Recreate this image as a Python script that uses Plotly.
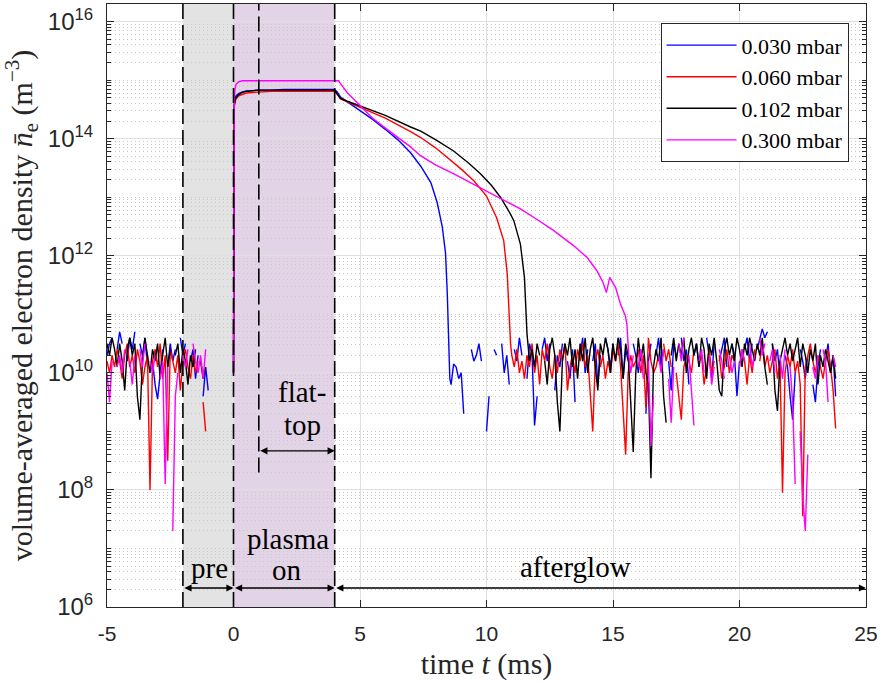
import numpy as np
import plotly.graph_objects as go

N = None

# ---------------- data (log10 of electron density in m^-3) ----------------
labels = ["0.030 mbar", "0.060 mbar", "0.102 mbar", "0.300 mbar"]
colors = ["#0000ff", "#ff0000", "#000000", "#ff00ff"]

# pre-phase noise, t = -5.0 ... -1.0 ms, step 0.1 ms
pre_t0 = -5.0
blue_pre = [10.3, 10.5, 10.6, N, 10.4, 10.7, 10.5, N, 10.2, 10.6,
            10.4, 10.7, N, 10.5, 10.3, 10.6, 10.1, N, 10.2, 9.8,
            9.55, 10.0, 10.4, N, 10.1, 10.5, 10.2, 10.4, N, 10.6,
            10.3, 10.5, N, 10.2, 10.4, 9.9, 10.3, N, 9.6, 10.1, 9.7]
red_pre = [10.2, 10.0, 10.3, 10.1, 10.4, 10.2, 9.9, 10.3, 10.5, 10.1,
           10.3, 10.0, 10.4, 10.2, 9.8, 10.1, 10.3, 8.0, 10.2, 10.4,
           10.1, 10.5, 9.9, 10.3, 8.5, 10.4, 10.2, 10.0, 10.3, 9.7,
           10.2, 10.4, 10.1, 9.9, 10.3, 10.0, 10.2, N, 9.5, 9.0, N]
black_pre = [10.5, 10.3, 10.6, 10.4, 10.1, 10.5, 10.2, 9.7, 10.4, 10.6,
             10.3, 10.5, 9.6, 9.2, 10.2, 10.6, 10.3, 10.0, 10.4, 10.2,
             10.5, 9.9, 10.3, 10.6, 10.1, 10.4, N, 10.3, 10.5, 10.0,
             10.4, 10.2, 9.8, 10.3, 10.1, 10.4, N, 10.2, 9.9, 10.1, N]
magenta_pre = [10.0, 9.5, 10.2, N, 10.1, 10.3, 10.0, 10.4, N, 10.2,
               9.8, 10.3, N, 10.4, 10.1, 10.5, N, 10.2, 10.0, 10.3,
               N, 9.9, 10.2, 8.1, 10.1, N, 7.3, 9.6, 10.0, N,
               10.3, 10.1, 10.4, N, 10.5, 10.2, 10.0, 10.3, 9.9, 10.4, N]

# plasma-on phase (shared time base)
on_t = [0.0, 0.01, 0.03, 0.06, 0.1, 0.2, 0.35, 0.5, 0.75, 1.0, 1.5, 2.0, 3.0, 4.0]
blue_on = [10.0, 14.47, 14.6, 14.68, 14.73, 14.77, 14.8, 14.81, 14.82, 14.83, 14.83, 14.84, 14.84, 14.84]
red_on = [10.0, 14.42, 14.55, 14.63, 14.68, 14.73, 14.76, 14.78, 14.79, 14.8, 14.81, 14.81, 14.81, 14.81]
black_on = [10.0, 14.44, 14.57, 14.65, 14.7, 14.75, 14.79, 14.81, 14.82, 14.83, 14.83, 14.83, 14.83, 14.83]
magenta_on = [10.0, 14.43, 14.7, 14.85, 14.93, 14.97, 14.99, 14.99, 14.99, 14.99, 14.99, 14.99, 14.99, 14.99]

# afterglow decay
blue_dec_t = [4.1, 4.23, 4.5, 5.0, 5.5, 6.0, 6.5, 7.0, 7.4, 7.8, 8.05, 8.25, 8.38, 8.45, 8.5, 8.55]
blue_dec = [14.8, 14.71, 14.63, 14.48, 14.33, 14.16, 13.98, 13.76, 13.53, 13.25, 12.91, 12.5, 12.05, 11.35, 10.5, 9.9]
red_dec_t = [4.1, 4.23, 4.5, 5.0, 6.0, 7.0, 7.4, 8.0, 8.45, 9.0, 9.5, 10.0, 10.4, 10.68, 10.82, 10.88, 10.95]
red_dec = [14.76, 14.68, 14.63, 14.54, 14.35, 14.12, 14.02, 13.84, 13.68, 13.48, 13.28, 13.02, 12.65, 12.26, 11.69, 11.06, 10.5]
black_dec_t = [4.1, 4.23, 4.5, 5.0, 6.0, 7.0, 7.4, 8.0, 8.7, 9.3, 9.76, 10.2, 10.55, 10.9, 11.08, 11.34, 11.5, 11.6]
black_dec = [14.76, 14.69, 14.64, 14.56, 14.4, 14.2, 14.13, 13.98, 13.79, 13.58, 13.4, 13.2, 13.0, 12.75, 12.6, 12.2, 11.63, 10.67]
magenta_dec_t = [4.15, 4.23, 4.49, 5.02, 5.5, 6.07, 7.0, 7.39, 8.0, 8.71, 9.5, 10.03, 11.34, 12.0, 12.66,
                 13.45, 13.98, 14.37, 14.6, 14.74, 14.87, 15.1, 15.3, 15.49, 15.55, 15.62]
magenta_dec = [14.99, 14.94, 14.79, 14.56, 14.35, 14.16, 13.86, 13.71, 13.55, 13.4, 13.22, 13.11, 12.8, 12.62, 12.43,
               12.17, 11.97, 11.74, 11.55, 11.37, 11.63, 11.46, 11.17, 10.97, 10.83, 10.32]

# afterglow noise floor, step 0.1 ms from the given start time
blue_post_t0 = 8.6
blue_post = [9.8, 10.15, 10.1, 9.9, 10.0, 9.3, N, N, 10.4, 10.2,
             10.3, 10.5, 10.2, N, 9.0, 9.6, N, 10.4, 10.3, N,
             10.5, 10.0, 10.3, 9.8, N, 10.4, 10.2, 10.6, 10.3, N,
             9.9, 10.5, 10.3, 9.1, 9.6, N, 10.4, 10.6, 10.2, 10.5,
             N, 9.7, 10.3, 10.1, 10.5, N, 10.2, 9.9, 10.4, 9.5,
             N, 10.3, 10.6, 10.0, 10.4, N, 10.2, 10.5, 9.8, 10.3,
             N, 10.6, 10.4, 10.1, 10.5, N, 10.3, 10.6, 9.9, 10.4,
             10.2, N, 10.5, 10.3, 10.0, 10.4, N, 9.3, 10.2, 10.5,
             N, 10.3, 10.6, 10.1, 10.4, N, 10.2, 9.7, 10.5, 10.3,
             N, 10.6, 10.2, 10.4, 9.8, N, 10.3, 10.5, 10.1, 10.4,
             N, 10.6, 10.3, 9.9, 10.5, N, 10.2, 10.4, 10.6, 10.1,
             N, 10.5, 10.3, 9.6, 10.2, N, 10.4, 10.6, 10.2, 10.5,
             N, 10.4, 10.6, 10.75, 10.6, 10.7, N, 10.5, 10.2, 10.4,
             9.9, N, 10.3, 10.1, 9.6, 9.2, 10.0, N, 10.4, 10.2,
             9.9, 10.3, N, 9.8, 9.5, 10.1, 10.4, N, 10.2, 10.5,
             10.0, 10.3, 9.6]
red_post_t0 = 11.0
red_post = [10.3, 10.1, 10.4, 10.0, 10.2, 9.9, 10.3, 10.1, 10.5, 10.0,
            10.3, 9.8, 10.4, 10.2, 10.5, 10.1, 9.9, 10.3, 10.0, 10.4,
            10.2, 10.5, 9.7, 10.1, 10.3, 10.0, 10.4, 10.2, 10.5, 10.1,
            10.3, 9.6, 9.0, 10.2, 10.4, 10.1, 10.3, 9.9, 10.2, 10.0,
            10.4, 10.2, 10.5, 10.1, 9.4, 8.6, 10.0, 10.3, 10.1, 10.2,
            10.4, 10.0, 10.3, 9.4, 10.6, 10.2, 10.0, 10.1, 10.3, N,
            10.5, 10.2, 10.4, 10.1, N, 10.0, 9.6, 9.2, 10.1, 10.3,
            10.2, 10.0, 10.4, N, 10.2, 10.3, 9.8, 10.1, 10.4, 10.0,
            10.2, N, 10.3, 9.9, 10.1, 10.4, 10.0, 10.3, 10.2, N,
            10.1, 10.4, 10.2, 9.8, 10.3, 10.0, 10.4, N, 10.2, 10.5,
            10.1, 10.3, 10.0, 10.2, 10.4, 9.9, 10.2, 7.95, 10.0, 10.3,
            10.1, 10.4, 10.0, 10.2, 9.8, 7.55, 10.1, 10.3, 10.5, 10.2,
            10.0, 10.3, 10.1, 9.9, 10.2, 10.4, 10.1, 9.7, 9.05]
black_post_t0 = 11.7
black_post = [10.2, 10.4, 10.1, 10.5, 10.3, N, 10.2, 9.8, 10.4, 10.6,
              10.3, 9.5, 9.0, 10.2, 10.5, 10.3, 10.6, 10.1, 10.4, 9.9,
              10.5, 10.2, 10.6, 10.0, 10.4, 10.6, 10.1, 9.7, 10.5, 10.3,
              10.6, 10.4, 10.0, 10.5, 10.2, 10.6, 10.4, 9.9, 10.5, 10.3,
              9.5, 8.65, 10.0, 10.6, 10.2, 10.5, 10.0, 9.8, 8.2, 10.1,
              10.4, 10.2, 10.6, 9.6, 9.15, N, 10.3, 10.6, 10.2, 10.5,
              10.3, 10.6, 10.0, 10.4, 10.6, 10.3, 10.5, 10.1, 10.6, 10.4,
              9.9, 10.5, 10.3, 10.6, 10.2, 9.7, 9.6, 10.4, 10.6, 10.3,
              10.5, 10.2, 10.6, 10.4, 10.1, 10.5, 10.3, 10.6, 10.4, 10.2,
              10.5, 10.3, 10.6, 10.1, 9.8, N, 10.5, 9.7, 9.35, 10.2,
              10.4, 10.6, 10.3, 10.5, 10.2, 10.4, 10.6, 10.1, 10.5, 10.3,
              10.0, 10.4, 10.2, 10.5, 9.8, 10.3, 10.1, 10.4, 10.2, 10.0,
              10.3, 9.9]
magenta_post_t0 = 15.7
magenta_post = [10.0, 10.3, N, 10.1, 10.4, 9.9, N, 10.2, 8.75, 9.6,
                N, 10.3, 10.0, 10.4, N, 9.9, 9.15, 10.1, N, 10.5,
                10.2, 10.6, N, 10.3, 9.6, 9.1, N, 10.2, 10.4, 10.0,
                N, 10.3, 9.8, 10.1, N, 10.4, 10.2, 9.9, N, 10.3,
                10.0, 10.2, N, 10.1, 10.4, 10.2, N, 10.5, 10.1, 10.3,
                N, 10.6, 10.3, 10.5, N, 10.2, 10.4, 10.0, N, 10.3,
                9.9, 10.4, N, 10.1, 9.5, 8.1, N, 9.0, 7.9, 7.3,
                8.6, N, 10.1, 9.9, 10.3, N, 10.4, 10.2, 9.5, N,
                10.3, 10.1]

series = [
    (blue_pre, blue_on, blue_dec_t, blue_dec, blue_post_t0, blue_post),
    (red_pre, red_on, red_dec_t, red_dec, red_post_t0, red_post),
    (black_pre, black_on, black_dec_t, black_dec, black_post_t0, black_post),
    (magenta_pre, magenta_on, magenta_dec_t, magenta_dec, magenta_post_t0, magenta_post),
]

# phase boundaries (ms)
t_pre_start, t_on, t_flat, t_off, t_end = -2.0, 0.0, 1.0, 4.0, 25.0


def to_density(vals):
    return [None if v is None else 10.0 ** v for v in vals]


fig = go.Figure()
for (pre, on, dec_t, dec, post_t0, post), lab, col in zip(series, labels, colors):
    pre_t = list(np.round(pre_t0 + 0.1 * np.arange(len(pre)), 3))
    post_t = list(np.round(post_t0 + 0.1 * np.arange(len(post)), 3))
    x = pre_t + [None] + on_t + dec_t + post_t
    y = to_density(pre) + [None] + to_density(on) + to_density(dec) + to_density(post)
    fig.add_trace(go.Scatter(x=x, y=y, mode="lines", name=lab,
                             line=dict(color=col, width=1.4), connectgaps=False))

serif = "Liberation Serif"
sans = "Liberation Sans"
axcol = "#262626"

shapes = [
    dict(type="rect", xref="x", yref="paper", x0=t_pre_start, x1=t_on, y0=0, y1=1,
         fillcolor="#e3e3e3", line=dict(width=0), layer="below"),
    dict(type="rect", xref="x", yref="paper", x0=t_on, x1=t_off, y0=0, y1=1,
         fillcolor="#e2d3e6", line=dict(width=0), layer="below"),
]
for xv, ybot in [(t_pre_start, 0), (t_on, 0), (t_flat, 0.223), (t_off, 0)]:
    shapes.append(dict(type="line", xref="x", yref="paper", x0=xv, x1=xv, y0=ybot, y1=1,
                       line=dict(color="black", width=1.6, dash="15px,6px"), layer="above"))

annotations = []
for x0, x1, yp in [(t_pre_start, t_on, 0.0315), (t_on, t_off, 0.0315),
                   (t_off, t_end, 0.0315), (t_flat, t_off, 0.259)]:
    annotations.append(dict(x=x1, y=yp, xref="x", yref="paper", ax=x0, ay=0,
                            axref="x", ayref="pixel", text="", showarrow=True,
                            arrowhead=2, startarrowhead=2, arrowside="end+start",
                            arrowsize=1.1, startarrowsize=1.1, arrowwidth=1.3, arrowcolor="black"))
for txt, xv, yp in [("pre", -0.95, 0.064), ("plasma", 2.17, 0.113), ("on", 2.13, 0.062),
                    ("afterglow", 13.5, 0.066), ("flat-", 2.7, 0.357), ("top", 2.72, 0.302)]:
    annotations.append(dict(x=xv, y=yp, xref="x", yref="paper", text=txt, showarrow=False,
                            xanchor="center", yanchor="middle",
                            font=dict(family=serif, size=29, color="black")))

ymaj = [10.0 ** e for e in range(6, 17, 2)]
ymaj_txt = ["10<sup>%d</sup>" % e for e in range(6, 17, 2)]
yminor = []
for e in range(6, 17):
    for k in range(1, 10):
        v = k * 10.0 ** e
        if (k == 1 and e % 2 == 0) or v > 2e16:
            continue
        yminor.append(v)

xt = [-5, 0, 5, 10, 15, 20, 25]

fig.update_layout(
    width=883, height=681,
    margin=dict(l=107, r=17, t=4, b=74),
    paper_bgcolor="white", plot_bgcolor="white",
    shapes=shapes, annotations=annotations,
    showlegend=True,
    legend=dict(x=0.977, xanchor="right", y=0.968, yanchor="top",
                bgcolor="white", bordercolor=axcol, borderwidth=1,
                font=dict(family=serif, size=22, color="black"),
                itemwidth=70, tracegroupgap=0),
    xaxis=dict(range=[-5, 25], tickmode="array", tickvals=xt, ticktext=[str(v) for v in xt],
               ticks="inside", ticklen=7, tickcolor=axcol, tickwidth=1,
               showline=True, linecolor=axcol, linewidth=1, mirror="ticks",
               showgrid=True, gridcolor="#e0e0e0", gridwidth=1, zeroline=False,
               tickfont=dict(family=sans, size=21, color=axcol), ticklabelstandoff=8,
               title=dict(text="time <i>t</i> (ms)", font=dict(family=serif, size=30, color=axcol),
                          standoff=8)),
    yaxis=dict(type="log", range=[6, np.log10(2e16)], tickmode="array",
               tickvals=ymaj, ticktext=ymaj_txt,
               ticks="inside", ticklen=7, tickcolor=axcol, tickwidth=1,
               showline=True, linecolor=axcol, linewidth=1, mirror="ticks",
               showgrid=True, gridcolor="#e0e0e0", gridwidth=1, zeroline=False,
               tickfont=dict(family=sans, size=24, color=axcol), ticklabelstandoff=8,
               minor=dict(tickmode="array", tickvals=yminor, ticks="inside", ticklen=4,
                          tickcolor=axcol, showgrid=True, gridcolor="#c8c8c8",
                          griddash="1px,3px", gridwidth=1),
               title=dict(text="volume-averaged electron density <i>n̄</i><sub>e</sub> (m<sup>−3</sup>)",
                          font=dict(family=serif, size=30, color=axcol), standoff=14)),
)

fig.write_html("out.html")
